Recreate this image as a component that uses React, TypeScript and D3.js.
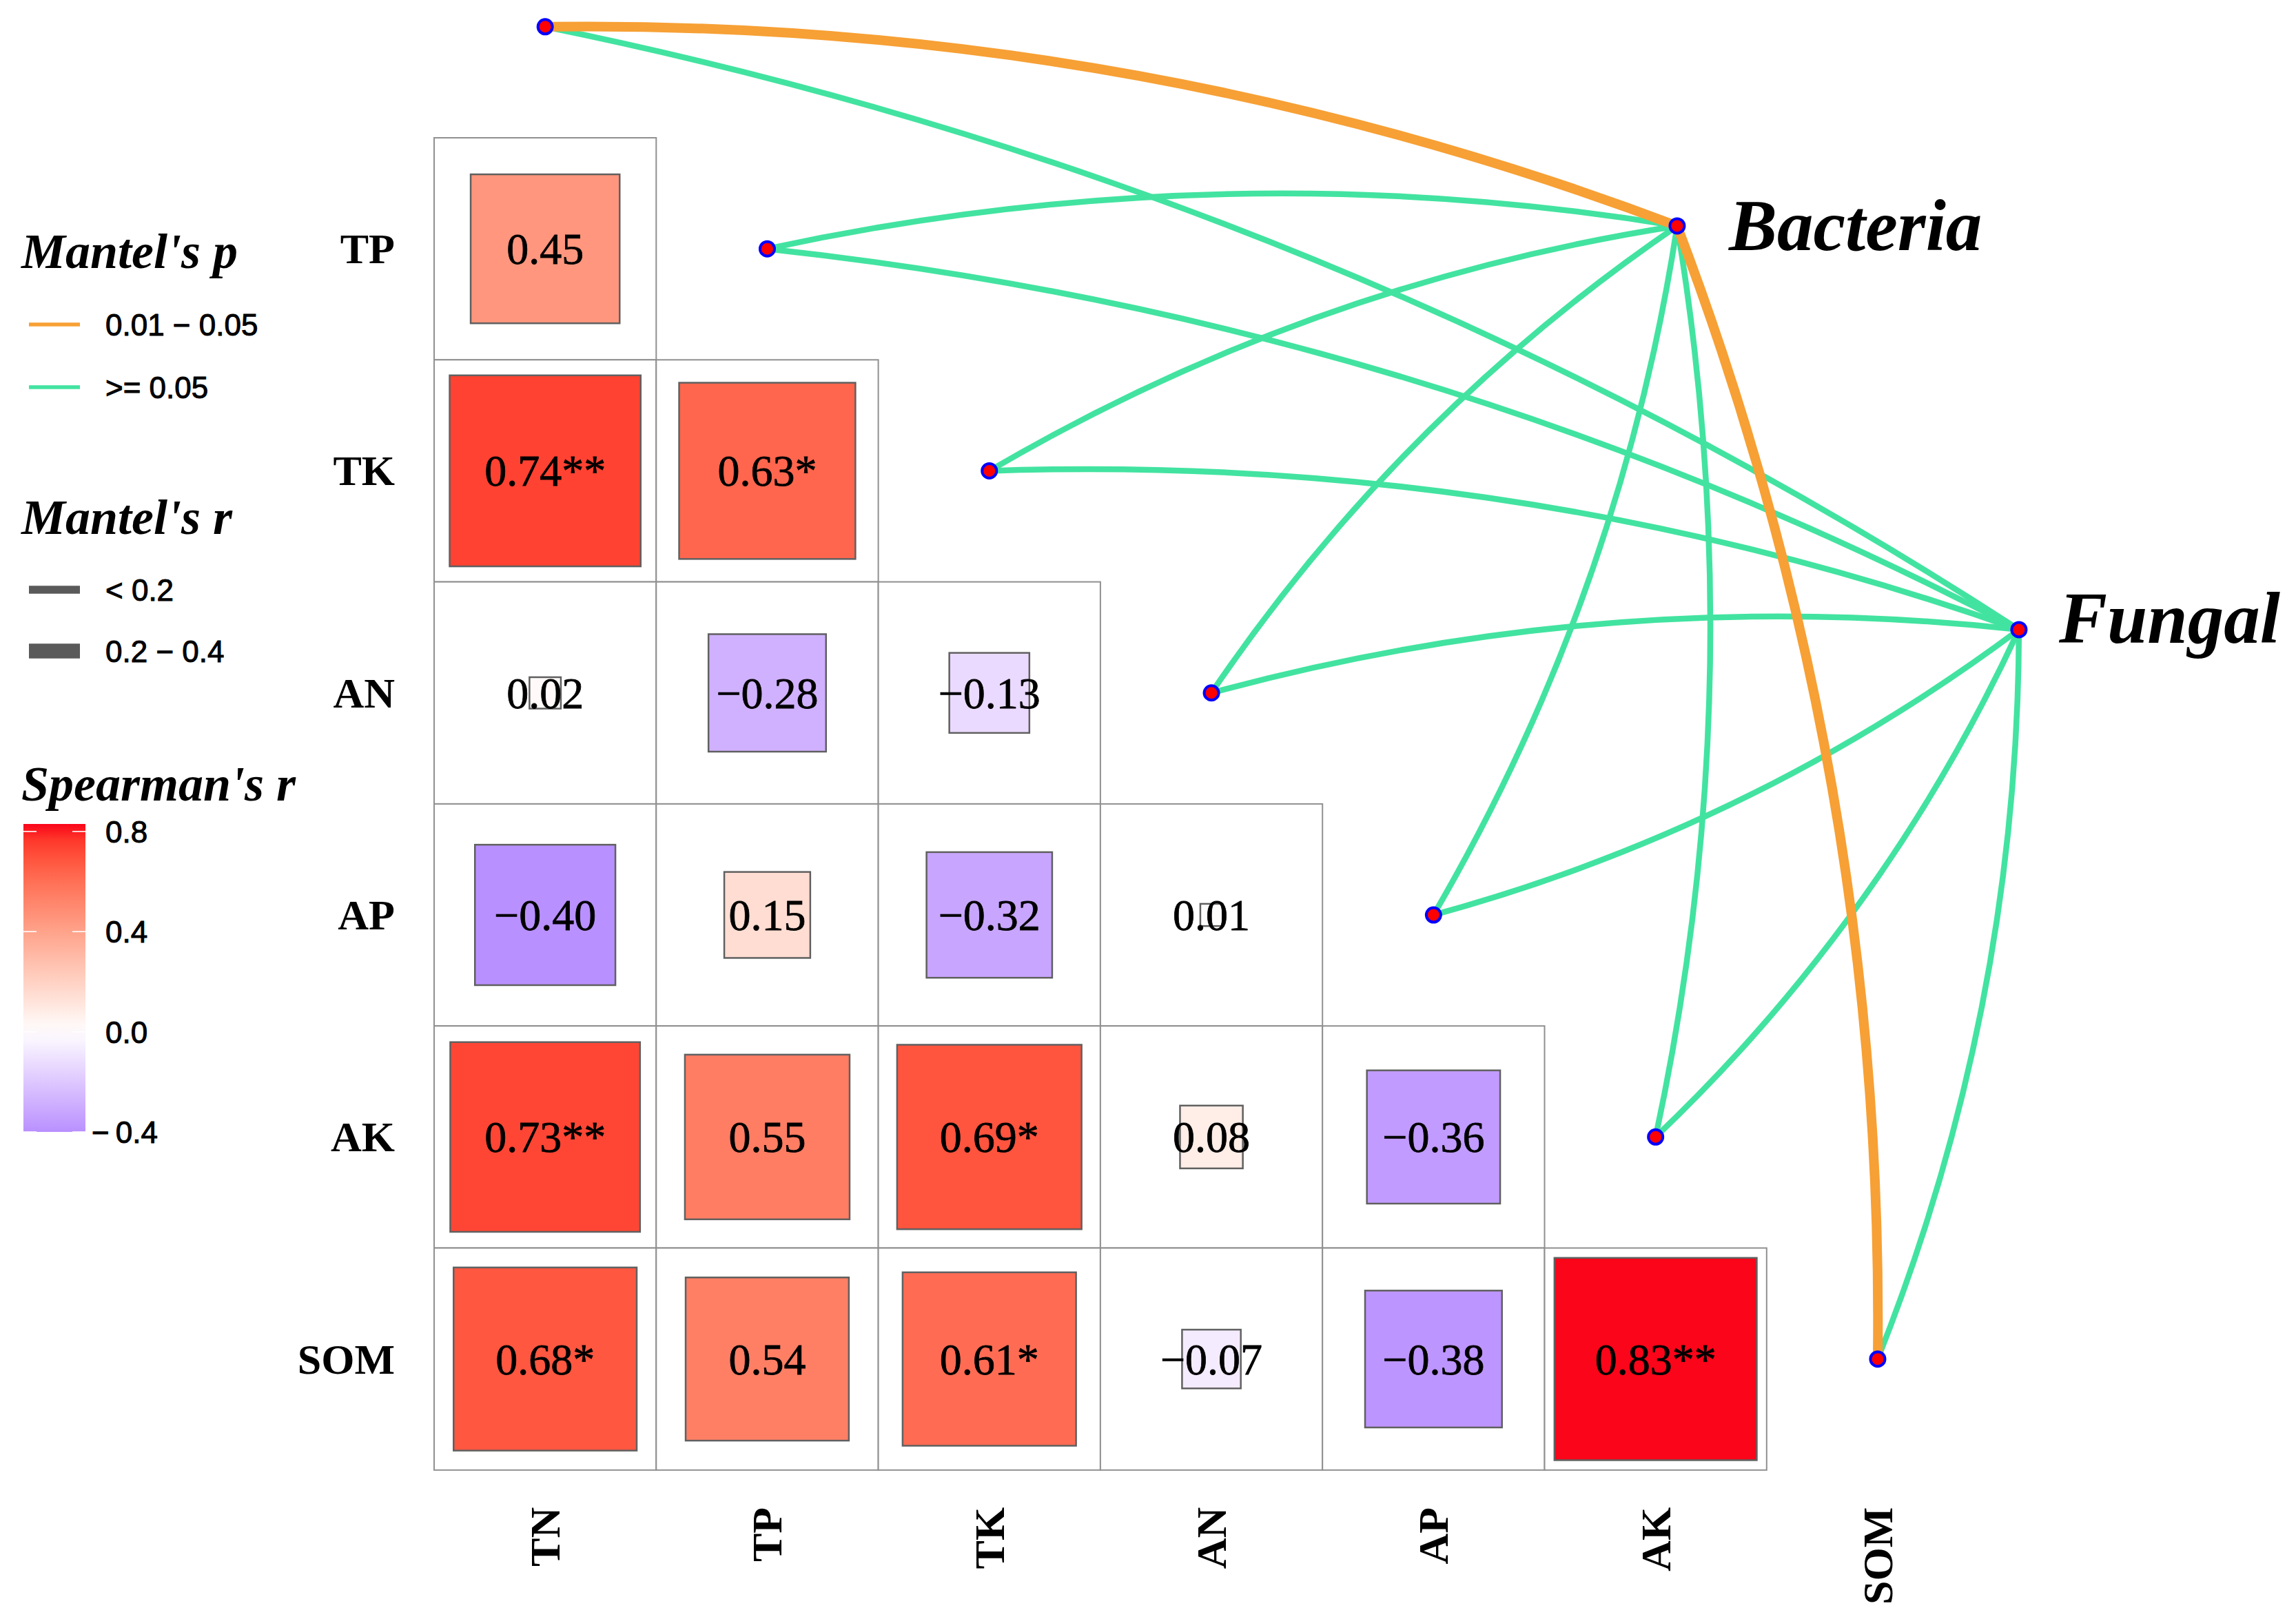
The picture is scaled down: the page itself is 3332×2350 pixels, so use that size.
import * as d3 from 'd3';
import { useEffect, useRef } from 'react';

// environmental variables (diagonal nodes) and the triangle layout
const variables = ['TN', 'TP', 'TK', 'AN', 'AP', 'AK', 'SOM'];
const rowVars = ['TP', 'TK', 'AN', 'AP', 'AK', 'SOM'];
const colVars = ['TN', 'TP', 'TK', 'AN', 'AP', 'AK'];

// Spearman's r, lower triangle, one row per rowVars entry
const spearmanR = [
  [0.45],
  [0.74, 0.63],
  [0.02, -0.28, -0.13],
  [-0.4, 0.15, -0.32, 0.01],
  [0.73, 0.55, 0.69, 0.08, -0.36],
  [0.68, 0.54, 0.61, -0.07, -0.38, 0.83],
];
const spearmanStars = [
  [''],
  ['**', '*'],
  ['', '', ''],
  ['', '', '', ''],
  ['**', '', '*', '', ''],
  ['*', '', '*', '', '', '**'],
];

// Mantel test classes, one entry per variable
const species = ['Bacteria', 'Fungal'];
const pClasses = ['0.01 \u2212 0.05', '>= 0.05'];
const rClasses = ['< 0.2', '0.2 \u2212 0.4'];
const bacteriaP = ['0.01 \u2212 0.05', '>= 0.05', '>= 0.05', '>= 0.05', '>= 0.05', '>= 0.05', '0.01 \u2212 0.05'];
const fungalP = ['>= 0.05', '>= 0.05', '>= 0.05', '>= 0.05', '>= 0.05', '>= 0.05', '>= 0.05'];
const bacteriaR = ['0.2 \u2212 0.4', '< 0.2', '< 0.2', '< 0.2', '< 0.2', '< 0.2', '0.2 \u2212 0.4'];
const fungalR = ['< 0.2', '< 0.2', '< 0.2', '< 0.2', '< 0.2', '< 0.2', '< 0.2'];

const legendTicks = [-0.4, 0, 0.4, 0.8];

export default function App() {
  const svgRef = useRef<SVGSVGElement | null>(null);

  useEffect(() => {
    if (!svgRef.current) return;
    const svg = d3.select(svgRef.current);
    svg.selectAll('*').remove();

    const serif = '"Liberation Serif", "Times New Roman", serif';
    const sans = '"Liberation Sans", Arial, sans-serif';

    const cell = 322.3;
    // grid units -> pixels
    const x = d3.scaleLinear().domain([0, 7]).range([630, 630 + 7 * cell]);
    const y = d3.scaleLinear().domain([0, 6]).range([200, 200 + 6 * cell]);

    // colour: gradient2 in Lab, symmetric around 0
    const allR = spearmanR.flat();
    const rMax = d3.max(allR, (d) => Math.abs(d)) as number;
    // low end extrapolated from the colour seen at r = -0.40
    const seen = d3.lab('#b990ff');
    const tSeen = 0.4 / rMax;
    const lowEnd = d3.lab(100 + (seen.l - 100) / tSeen, seen.a / tSeen, seen.b / tSeen);
    const high = d3.interpolateLab('#ffffff', '#fa0519');
    const low = d3.interpolateLab('#ffffff', lowEnd);
    const fill = (r: number) => (r >= 0 ? high(r / rMax) : low(-r / rMax));

    const pColor = d3.scaleOrdinal<string, string>().domain(pClasses).range(['#f7a035', '#42e3a0']);
    const rWidth = d3.scaleOrdinal<string, number>().domain(rClasses).range([8.5, 14]);
    const rLegendWidth = d3.scaleOrdinal<string, number>().domain(rClasses).range([11.7, 21.7]);

    // ---- links ----
    const envPos = variables.map((v, k) => ({ v, k, x: x(k + 0.5), y: y(k - 0.5) }));
    const half = (variables.length - 1) / 2;
    const speciesPos = [
      { name: species[0], x: x(5.597), y: y(0.397), dx: 75, dy: 35, p: bacteriaP, r: bacteriaR },
      { name: species[1], x: x(7.136), y: y(2.215), dx: 58, dy: 19, p: fungalP, r: fungalR },
    ];
    const links: { sx: number; sy: number; tx: number; ty: number; p: string; r: string; left: boolean }[] = [];
    speciesPos.forEach((s) => {
      envPos.forEach((e) => {
        links.push({ sx: e.x, sy: e.y, tx: s.x, ty: s.y, p: s.p[e.k], r: s.r[e.k], left: e.k <= half });
      });
    });
    const curve = (d: (typeof links)[number]) => {
      const dx = d.tx - d.sx;
      const dy = d.ty - d.sy;
      const k = d.left ? 0.095 : -0.095;
      const cx = (d.sx + d.tx) / 2 + dy * k;
      const cy = (d.sy + d.ty) / 2 - dx * k;
      return `M${d.sx},${d.sy}Q${cx},${cy} ${d.tx},${d.ty}`;
    };

    // ---- grid cells ----
    const cells = rowVars.flatMap((rv, i) =>
      colVars.slice(0, i + 1).map((cv, j) => ({ i, j, r: spearmanR[i][j], star: spearmanStars[i][j] }))
    );
    const g = svg.append('g');
    g.selectAll('rect.cell')
      .data(cells)
      .join('rect')
      .attr('class', 'cell')
      .attr('x', (d) => x(d.j))
      .attr('y', (d) => y(d.i))
      .attr('width', cell)
      .attr('height', cell)
      .attr('fill', '#fff')
      .attr('stroke', '#909090')
      .attr('stroke-width', 2);

    g.selectAll('rect.box')
      .data(cells)
      .join('rect')
      .attr('class', 'box')
      .each(function (d) {
        const s = cell * Math.sqrt(Math.abs(d.r));
        d3.select(this)
          .attr('x', x(d.j + 0.5) - s / 2)
          .attr('y', y(d.i + 0.5) - s / 2)
          .attr('width', s)
          .attr('height', s);
      })
      .attr('fill', (d) => fill(d.r))
      .attr('stroke', '#606060')
      .attr('stroke-width', 2.5);

    const fmt = d3.format('.2f');
    g.selectAll('text.val')
      .data(cells)
      .join('text')
      .attr('class', 'val')
      .attr('x', (d) => x(d.j + 0.5))
      .attr('y', (d) => y(d.i + 0.5) + 22)
      .attr('text-anchor', 'middle')
      .attr('font-family', serif)
      .attr('font-size', 64)
      .attr('fill', '#000')
      .attr('stroke', '#000')
      .attr('stroke-width', 0.8)
      .text((d) => fmt(d.r) + d.star);

    // axis labels
    g.selectAll('text.rowlab')
      .data(rowVars)
      .join('text')
      .attr('class', 'rowlab')
      .attr('x', 573)
      .attr('y', (_, i) => y(i + 0.5) + 21)
      .attr('text-anchor', 'end')
      .attr('font-family', serif)
      .attr('font-weight', 'bold')
      .attr('font-size', 62)
      .text((d) => d);

    g.selectAll('text.collab')
      .data(variables)
      .join('text')
      .attr('class', 'collab')
      .attr('transform', (_, k) => `translate(${x(k + 0.5) + 21},${y(6) + 54}) rotate(-90)`)
      .attr('text-anchor', 'end')
      .attr('font-family', serif)
      .attr('font-weight', 'bold')
      .attr('font-size', 62)
      .text((d) => d);

    // links: green first, orange on top
    const sorted = links.slice().sort((a, b) => pClasses.indexOf(b.p) - pClasses.indexOf(a.p));
    g.append('g')
      .attr('fill', 'none')
      .selectAll('path')
      .data(sorted)
      .join('path')
      .attr('d', curve)
      .attr('stroke', (d) => pColor(d.p))
      .attr('stroke-width', (d) => rWidth(d.r));

    // nodes
    const nodes = [...envPos.map((e) => ({ x: e.x, y: e.y })), ...speciesPos.map((s) => ({ x: s.x, y: s.y }))];
    g.append('g')
      .selectAll('circle')
      .data(nodes)
      .join('circle')
      .attr('cx', (d) => d.x)
      .attr('cy', (d) => d.y)
      .attr('r', 10.5)
      .attr('fill', '#ff0000')
      .attr('stroke', '#0000ff')
      .attr('stroke-width', 4);

    g.selectAll('text.sp')
      .data(speciesPos)
      .join('text')
      .attr('class', 'sp')
      .attr('x', (d) => d.x + d.dx)
      .attr('y', (d) => d.y + d.dy)
      .attr('font-family', serif)
      .attr('font-weight', 'bold')
      .attr('font-style', 'italic')
      .attr('font-size', 105)
      .text((d) => d.name);

    // ---- legends ----
    const leg = svg.append('g');
    const title = (txt: string, ty: number) =>
      leg
        .append('text')
        .attr('x', 31)
        .attr('y', ty)
        .attr('font-family', serif)
        .attr('font-weight', 'bold')
        .attr('font-style', 'italic')
        .attr('font-size', 72)
        .text(txt);
    const label = (txt: string, lx: number, ly: number) =>
      leg
        .append('text')
        .attr('x', lx)
        .attr('y', ly + 16)
        .attr('font-family', sans)
        .attr('font-size', 44)
        .attr('stroke', '#000')
        .attr('stroke-width', 1)
        .text(txt);

    title("Mantel's p", 389);
    pClasses.forEach((c, i) => {
      const yy = 471 + i * 91;
      leg.append('line').attr('x1', 42).attr('x2', 116).attr('y1', yy).attr('y2', yy)
        .attr('stroke', pColor(c)).attr('stroke-width', 5.5);
      label(c, 153, yy);
    });

    title("Mantel's r", 775);
    rClasses.forEach((c, i) => {
      const yy = 856 + i * 89;
      leg.append('line').attr('x1', 42).attr('x2', 116).attr('y1', yy).attr('y2', yy)
        .attr('stroke', '#5a5a5a').attr('stroke-width', rLegendWidth(c));
      label(c, 153, yy);
    });

    title("Spearman's r", 1162);
    const rMin = d3.min(allR) as number;
    const ly = d3.scaleLinear().domain([rMin, rMax]).range([1643, 1196]);
    const defs = svg.append('defs');
    const grad = defs.append('linearGradient').attr('id', 'bar').attr('x1', 0).attr('x2', 0).attr('y1', 1).attr('y2', 0);
    d3.range(0, 1.0001, 0.05).forEach((t) => {
      const v = rMin + t * (rMax - rMin);
      grad.append('stop').attr('offset', t).attr('stop-color', fill(v));
    });
    leg.append('rect').attr('x', 34).attr('y', ly(rMax)).attr('width', 90).attr('height', ly(rMin) - ly(rMax))
      .attr('fill', 'url(#bar)');
    const tfmt = d3.format('.1f');
    legendTicks.forEach((t) => {
      const ty = ly(t);
      leg.append('line').attr('x1', 34).attr('x2', 53).attr('y1', ty).attr('y2', ty).attr('stroke', '#fff').attr('stroke-width', 1.6);
      leg.append('line').attr('x1', 105).attr('x2', 124).attr('y1', ty).attr('y2', ty).attr('stroke', '#fff').attr('stroke-width', 1.6);
      if (t < 0) {
        const txt = label('', 133, ty);
        txt.append('tspan').text('\u2212');
        txt.append('tspan').attr('dx', 9).text(tfmt(-t));
      } else {
        label(tfmt(t), 153, ty);
      }
    });
  }, []);

  return (
    <svg
      ref={svgRef}
      width={3332}
      height={2350}
      style={{ position: 'absolute', left: 0, top: 0, background: '#fff' }}
    />
  );
}
